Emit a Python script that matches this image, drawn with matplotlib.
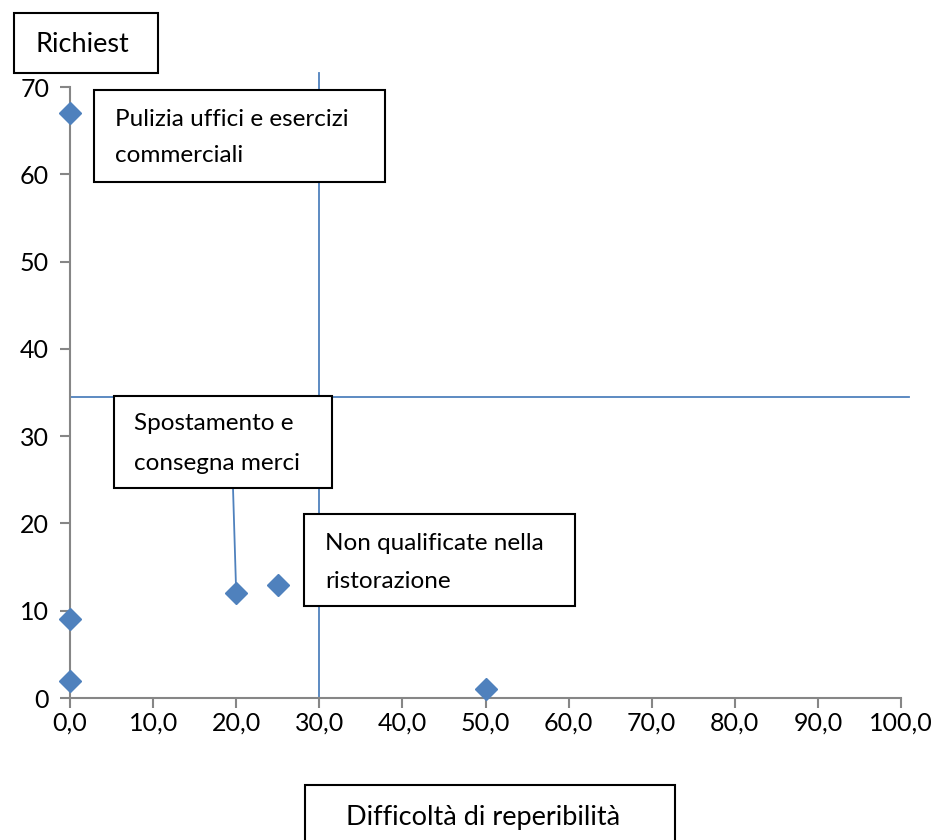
import matplotlib
matplotlib.use('Agg')
import matplotlib.pyplot as plt
from matplotlib.patches import Rectangle

# dati
difficolta = [0, 0, 0, 20, 25, 50]
richieste = [67, 9, 2, 12, 13, 1]
soglia_x = 30
soglia_y = 34.5
x_ticks = [0, 10, 20, 30, 40, 50, 60, 70, 80, 90, 100]
x_tick_labels = ['0,0', '10,0', '20,0', '30,0', '40,0', '50,0', '60,0', '70,0', '80,0', '90,0', '100,0']
y_ticks = [0, 10, 20, 30, 40, 50, 60, 70]

W, H = 935, 840
BLU = '#4F81BD'
GRIGIO = '#868686'
FONT = 'Lato'
FS = 17.5
FS_TITOLI = 19.5
FS_TICK = 18

fig = plt.figure(figsize=(W / 100, H / 100), dpi=100)
ax = fig.add_axes([70 / W, 1 - 698 / H, 831 / W, 611 / H])

ax.set_xlim(0, 100)
ax.set_ylim(0, 70)
for s in ['top', 'right']:
    ax.spines[s].set_visible(False)
for s in ['left', 'bottom']:
    ax.spines[s].set_color(GRIGIO)
    ax.spines[s].set_linewidth(1.5)
ax.set_xticks(x_ticks)
ax.set_xticklabels(x_tick_labels, fontfamily=FONT, fontsize=FS_TICK)
ax.set_yticks(y_ticks)
ax.set_yticklabels([str(v) for v in y_ticks], fontfamily=FONT, fontsize=FS_TICK)
ax.tick_params(direction='out', length=7, width=1.5, color=GRIGIO)
ax.tick_params(axis='x', pad=3)
ax.tick_params(axis='y', pad=8)

# linee di soglia
ax.plot([soglia_x, soglia_x], [0, 71.6], color=BLU, lw=1.3, clip_on=False, zorder=1)
ax.plot([0, 101], [soglia_y, soglia_y], color=BLU, lw=1.3, clip_on=False, zorder=1)

# punti
ax.plot(difficolta, richieste, linestyle='none', marker='D', markersize=11,
        color=BLU, clip_on=False, zorder=5)


def box(x0, y0, x1, y1):
    r = Rectangle((x0 / W, 1 - y1 / H), (x1 - x0) / W, (y1 - y0) / H,
                  transform=fig.transFigure, facecolor='white', edgecolor='black',
                  linewidth=1.5, zorder=10)
    fig.add_artist(r)


def testo(x, y, s, ha='left', fs=FS):
    fig.text(x / W, 1 - y / H, s, ha=ha, va='center', fontfamily=FONT,
             fontsize=fs, zorder=11)


# linea guida dalla casella al punto (20, 12)
xa, ya = fig.transFigure.inverted().transform(ax.transData.transform((difficolta[3], richieste[3])))
fig.add_artist(plt.Line2D([233 / W, xa], [1 - 488 / H, ya], color=BLU, lw=1.3,
                          transform=fig.transFigure, zorder=4))

box(14, 13, 158, 73)
testo(35, 44, 'Richiest', fs=FS_TITOLI)

box(94, 90, 385, 182)
testo(115, 119, 'Pulizia uffici e esercizi')
testo(115, 156, 'commerciali')

box(114, 396, 332, 488)
testo(134, 424, 'Spostamento e')
testo(134, 463, 'consegna merci')

box(304, 514, 575, 606)
testo(325, 543, 'Non qualificate nella')
testo(325, 581, 'ristorazione')

box(305, 785, 675, 845)
testo(483, 818, 'Difficoltà di reperibilità', ha='center', fs=FS_TITOLI)

fig.savefig('out.png', dpi=100, facecolor='white')
